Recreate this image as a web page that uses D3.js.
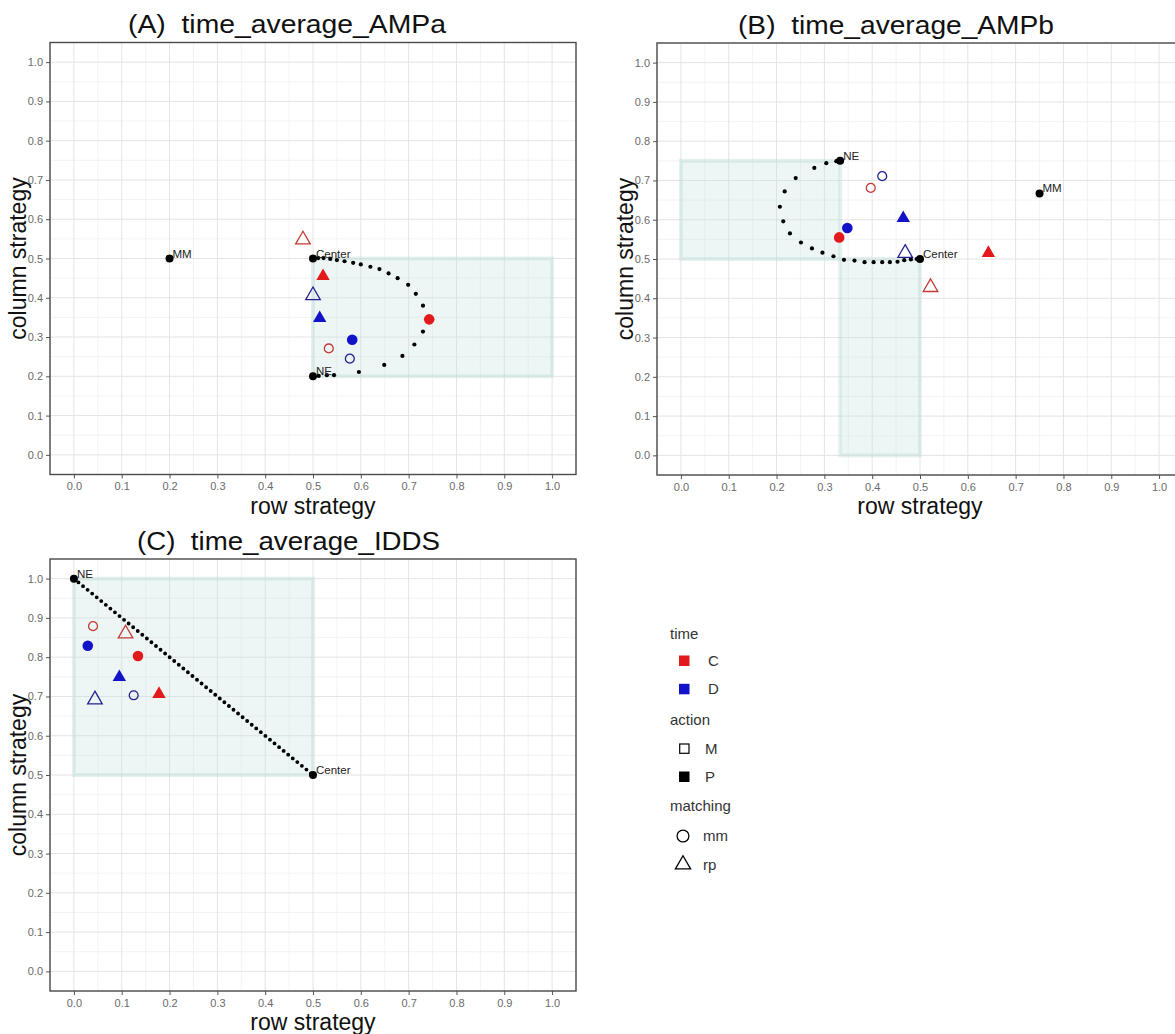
<!DOCTYPE html>
<html>
<head>
<meta charset="utf-8">
<script src="https://cdn.jsdelivr.net/npm/d3@7"></script>
<style>
body { margin: 0; background: #fff; }
svg text { font-family: "Liberation Sans", Arial, sans-serif; }
</style>
</head>
<body>
<div id="chart"></div>
<script>
// titles and axis ticks
const titles = ["(A)  time_average_AMPa", "(B)  time_average_AMPb", "(C)  time_average_IDDS"];
const tickValues = [0, 0.1, 0.2, 0.3, 0.4, 0.5, 0.6, 0.7, 0.8, 0.9, 1.0];
const minorValues = [-0.05, 0.05, 0.15, 0.25, 0.35, 0.45, 0.55, 0.65, 0.75, 0.85, 0.95, 1.05];

// the 8 marker groups, same order in every panel
const markerTime = ["C", "C", "C", "C", "D", "D", "D", "D"];
const markerAction = ["M", "M", "P", "P", "M", "M", "P", "P"];
const markerMatching = ["mm", "rp", "mm", "rp", "mm", "rp", "mm", "rp"];

const ampaX = [0.533, 0.479, 0.743, 0.521, 0.577, 0.500, 0.582, 0.514];
const ampaY = [0.271, 0.548, 0.345, 0.455, 0.245, 0.406, 0.293, 0.348];
const ampbX = [0.397, 0.522, 0.331, 0.643, 0.421, 0.469, 0.348, 0.465];
const ampbY = [0.681, 0.428, 0.555, 0.515, 0.711, 0.515, 0.579, 0.604];
const iddsX = [0.040, 0.108, 0.134, 0.178, 0.125, 0.044, 0.029, 0.095];
const iddsY = [0.879, 0.860, 0.803, 0.706, 0.703, 0.692, 0.829, 0.749];

// reference points
const ampaRefNames = ["MM", "Center", "NE"];
const ampaRefX = [0.2, 0.5, 0.5];
const ampaRefY = [0.5, 0.5, 0.2];
const ampbRefNames = ["MM", "Center", "NE"];
const ampbRefX = [0.75, 0.5, 0.333];
const ampbRefY = [0.667, 0.5, 0.75];
const iddsRefNames = ["NE", "Center"];
const iddsRefX = [0, 0.5];
const iddsRefY = [1.0, 0.5];

// dotted trajectories
const ampaPathX = [0.511, 0.522, 0.536, 0.550, 0.566, 0.584, 0.600, 0.620, 0.639, 0.658, 0.677, 0.699, 0.715, 0.730,
  0.743, 0.730, 0.712, 0.687, 0.649, 0.596, 0.544, 0.529, 0.512];
const ampaPathY = [0.501, 0.501, 0.499, 0.496, 0.493, 0.489, 0.485, 0.479, 0.473, 0.462, 0.450, 0.433, 0.410, 0.380,
  0.345, 0.314, 0.281, 0.252, 0.229, 0.211, 0.203, 0.203, 0.201];
const ampbPathX = [0.325, 0.304, 0.279, 0.240, 0.217, 0.207, 0.214, 0.228, 0.251, 0.274, 0.296, 0.319, 0.341, 0.363,
  0.384, 0.403, 0.421, 0.437, 0.453, 0.467, 0.481, 0.493];
const ampbPathY = [0.749, 0.744, 0.732, 0.706, 0.672, 0.633, 0.596, 0.565, 0.542, 0.527, 0.516, 0.507, 0.498, 0.496,
  0.492, 0.492, 0.492, 0.492, 0.493, 0.497, 0.499, 0.500];

// shaded regions: [x0, x1, y0, y1]
const ampaRegions = [[0.5, 1.0, 0.2, 0.5]];
const ampbRegions = [[0, 0.333, 0.5, 0.75], [0.333, 0.5, 0, 0.5]];
const iddsRegions = [[0, 0.5, 0.5, 1.0]];

// legend
const legendTime = ["C", "D"];
const legendAction = ["M", "P"];
const legendMatching = ["mm", "rp"];

const red = "#e31a1c", blue = "#1212c8";
const hollowRed = "#c23a36", hollowBlue = "#22228f";

const W = 1175, H = 1034;
const svg = d3.select("#chart").append("svg").attr("width", W).attr("height", H);
svg.append("rect").attr("width", W).attr("height", H).attr("fill", "#fff");

const pw = 526, ph = 432;

function zip(xs, ys) { return xs.map((v, i) => [v, ys[i]]); }

function drawPanel(opt) {
  const x = d3.scaleLinear().domain([-0.05, 1.05]).range([opt.left, opt.left + pw]);
  const y = d3.scaleLinear().domain([-0.05, 1.05]).range([opt.top + ph, opt.top]);
  const g = svg.append("g");

  // grid
  g.selectAll(".minx").data(minorValues).join("line")
    .attr("x1", d => x(d)).attr("x2", d => x(d)).attr("y1", opt.top).attr("y2", opt.top + ph)
    .attr("stroke", "#f0f0f0").attr("stroke-width", 0.8);
  g.selectAll(".miny").data(minorValues).join("line")
    .attr("y1", d => y(d)).attr("y2", d => y(d)).attr("x1", opt.left).attr("x2", opt.left + pw)
    .attr("stroke", "#f0f0f0").attr("stroke-width", 0.8);
  g.selectAll(".majx").data(tickValues).join("line")
    .attr("x1", d => x(d)).attr("x2", d => x(d)).attr("y1", opt.top).attr("y2", opt.top + ph)
    .attr("stroke", "#e4e4e4").attr("stroke-width", 1);
  g.selectAll(".majy").data(tickValues).join("line")
    .attr("y1", d => y(d)).attr("y2", d => y(d)).attr("x1", opt.left).attr("x2", opt.left + pw)
    .attr("stroke", "#e4e4e4").attr("stroke-width", 1);

  // shaded regions
  g.selectAll(".region").data(opt.regions).join("rect")
    .attr("x", d => x(d[0])).attr("y", d => y(d[3]))
    .attr("width", d => x(d[1]) - x(d[0])).attr("height", d => y(d[2]) - y(d[3]))
    .attr("fill", "rgba(196,224,220,0.3)")
    .attr("stroke", "rgba(196,224,220,0.45)").attr("stroke-width", 4);

  // trajectory
  if (opt.path) {
    g.selectAll(".traj").data(zip(opt.path[0], opt.path[1])).join("circle")
      .attr("cx", d => x(d[0])).attr("cy", d => y(d[1])).attr("r", 2.1).attr("fill", "#000");
  }
  if (opt.line) {
    g.append("path")
      .attr("d", d3.line().x(d => x(d[0])).y(d => y(d[1]))(zip(opt.refX, opt.refY)))
      .attr("fill", "none").attr("stroke", "#000").attr("stroke-width", 3.9)
      .attr("stroke-linecap", "round").attr("stroke-dasharray", "0 5.9");
  }

  // reference points
  const refs = opt.refNames.map((n, i) => ({ n, x: opt.refX[i], y: opt.refY[i] }));
  g.selectAll(".ref").data(refs).join("circle")
    .attr("cx", d => x(d.x)).attr("cy", d => y(d.y)).attr("r", 4).attr("fill", "#000");
  g.selectAll(".refl").data(refs).join("text")
    .attr("x", d => x(d.x) + 3).attr("y", d => y(d.y) - 1)
    .attr("font-size", 11.5).attr("fill", "#222").text(d => d.n);

  // markers
  const marks = opt.mx.map((v, i) => ({
    x: v, y: opt.my[i], time: markerTime[i], action: markerAction[i], matching: markerMatching[i]
  }));
  g.selectAll(".mark").data(marks).join("path")
    .attr("transform", d => `translate(${x(d.x)},${y(d.y)})`)
    .attr("d", d => {
      const hollow = d.action === "M";
      if (d.matching === "mm") return d3.symbol(d3.symbolCircle, hollow ? 62 : 88)();
      return d3.symbol(d3.symbolTriangle, hollow ? 92 : 78)();
    })
    .attr("fill", d => d.action === "M" ? "none" : (d.time === "C" ? red : blue))
    .attr("stroke", d => d.action === "M" ? (d.time === "C" ? hollowRed : hollowBlue) : "none")
    .attr("stroke-width", 1.3);

  // axes
  const ax = g.append("g").attr("transform", `translate(0,${opt.top + ph})`)
    .call(d3.axisBottom(x).tickValues(tickValues).tickFormat(d3.format(".1f")).tickSize(4).tickPadding(4));
  const ay = g.append("g").attr("transform", `translate(${opt.left},0)`)
    .call(d3.axisLeft(y).tickValues(tickValues).tickFormat(d3.format(".1f")).tickSize(4).tickPadding(3));
  [ax, ay].forEach(a => {
    a.select(".domain").remove();
    a.selectAll(".tick line").attr("stroke", "#555");
    a.selectAll(".tick text").attr("fill", "#6a6a6a").attr("font-size", 11)
      .attr("font-family", "Liberation Sans, Arial, sans-serif");
  });

  // border
  g.append("rect").attr("x", opt.left).attr("y", opt.top).attr("width", pw).attr("height", ph)
    .attr("fill", "none").attr("stroke", "#4a4a4a").attr("stroke-width", 1.4);

  // titles
  g.append("text").attr("x", opt.titleX).attr("y", opt.top - 9.5)
    .attr("font-size", 26).attr("fill", "#111").style("white-space", "pre")
    .attr("textLength", opt.titleLen).attr("lengthAdjust", "spacingAndGlyphs")
    .text(opt.title);
  g.append("text").attr("x", opt.left + pw / 2).attr("y", opt.top + ph + 39)
    .attr("text-anchor", "middle").attr("font-size", 23).attr("fill", "#111").text("row strategy");
  g.append("text")
    .attr("transform", `translate(${opt.left - 24},${opt.top + ph / 2}) rotate(-90)`)
    .attr("text-anchor", "middle").attr("font-size", 23).attr("fill", "#111").text("column strategy");
}

drawPanel({ left: 50, top: 42.5, title: titles[0], titleX: 128, titleLen: 318,
  regions: ampaRegions, path: [ampaPathX, ampaPathY],
  refNames: ampaRefNames, refX: ampaRefX, refY: ampaRefY, mx: ampaX, my: ampaY });
drawPanel({ left: 657, top: 43, title: titles[1], titleX: 738, titleLen: 316,
  regions: ampbRegions, path: [ampbPathX, ampbPathY],
  refNames: ampbRefNames, refX: ampbRefX, refY: ampbRefY, mx: ampbX, my: ampbY });
drawPanel({ left: 50, top: 559, title: titles[2], titleX: 137, titleLen: 303,
  regions: iddsRegions, line: true,
  refNames: iddsRefNames, refX: iddsRefX, refY: iddsRefY, mx: iddsX, my: iddsY });

// legend
const lg = svg.append("g").attr("font-family", "Noto Sans, Open Sans, sans-serif");
const lx = 670;
lg.append("text").attr("x", lx).attr("y", 639).attr("font-size", 15).attr("fill", "#333").text("time");
lg.selectAll(".lt").data(legendTime).join("rect")
  .attr("x", 679).attr("y", (d, i) => 655.5 + i * 28.3).attr("width", 10.5).attr("height", 10.5)
  .attr("fill", d => d === "C" ? red : blue);
lg.selectAll(".ltl").data(legendTime).join("text")
  .attr("x", 708).attr("y", (d, i) => 666 + i * 28.3).attr("font-size", 15).attr("fill", "#333").text(d => d);

lg.append("text").attr("x", lx).attr("y", 725).attr("font-size", 15).attr("fill", "#333").text("action");
lg.selectAll(".la").data(legendAction).join("rect")
  .attr("x", (d) => d === "M" ? 679.7 : 679).attr("y", (d, i) => (d === "M" ? 744 : 771.5))
  .attr("width", d => d === "M" ? 9.3 : 10.5).attr("height", d => d === "M" ? 9.3 : 10.5)
  .attr("fill", d => d === "M" ? "none" : "#000")
  .attr("stroke", d => d === "M" ? "#000" : "none").attr("stroke-width", 1.2);
lg.selectAll(".lal").data(legendAction).join("text")
  .attr("x", 705).attr("y", (d, i) => 754 + i * 28).attr("font-size", 15).attr("fill", "#333").text(d => d);

lg.append("text").attr("x", lx).attr("y", 811).attr("font-size", 15).attr("fill", "#333").text("matching");
lg.selectAll(".lm").data(legendMatching).join("path")
  .attr("transform", (d, i) => `translate(683,${836 + i * 28.5})`)
  .attr("d", d => d3.symbol(d === "mm" ? d3.symbolCircle : d3.symbolTriangle, d === "mm" ? 110 : 100)())
  .attr("fill", "none").attr("stroke", "#000").attr("stroke-width", 1.3);
lg.selectAll(".lml").data(legendMatching).join("text")
  .attr("x", 703).attr("y", (d, i) => 841 + i * 28.5).attr("font-size", 15).attr("fill", "#333").text(d => d);
</script>
</body>
</html>
